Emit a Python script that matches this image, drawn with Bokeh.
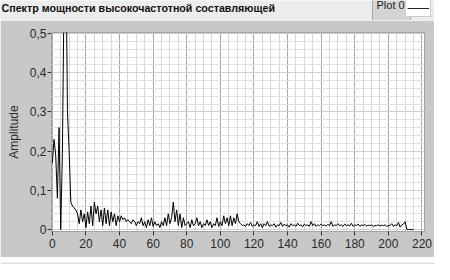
from bokeh.plotting import figure
from bokeh.layouts import column
from bokeh.models import (Range1d, FixedTicker, Label, Legend, LegendItem)
from bokeh.embed import file_html
from bokeh.resources import INLINE

# ---- data ----
freq = list(range(0, 216))
amplitude = [
    0.17, 0.23, 0.19, 0.08, 0.26, 0.00, 0.20, 0.62, 0.75, 0.30,
    0.20, 0.07, 0.06, 0.055, 0.05, 0.04, 0.015, 0.05, 0.02, 0.04,
    0.005, 0.045, 0.015, 0.06, 0.01, 0.07, 0.04, 0.06, 0.02, 0.05,
    0.01, 0.055, 0.015, 0.05, 0.01, 0.045, 0.02, 0.04, 0.01, 0.035,
    0.02, 0.035, 0.025, 0.03, 0.02, 0.025, 0.02, 0.015, 0.025, 0.02,
    0.01, 0.02, 0.015, 0.03, 0.01, 0.02, 0.005, 0.025, 0.01, 0.03,
    0.008, 0.02, 0.01, 0.015, 0.005, 0.02, 0.01, 0.03, 0.01, 0.04,
    0.015, 0.03, 0.07, 0.02, 0.05, 0.01, 0.04, 0.005, 0.03, 0.01,
    0.015, 0.02, 0.005, 0.025, 0.01, 0.015, 0.03, 0.01, 0.02, 0.005,
    0.015, 0.01, 0.025, 0.01, 0.02, 0.005, 0.015, 0.01, 0.03, 0.008,
    0.02, 0.01, 0.035, 0.015, 0.03, 0.01, 0.035, 0.01, 0.03, 0.015,
    0.04, 0.02, 0.015, 0.01, 0.012, 0.008, 0.015, 0.01, 0.018, 0.008,
    0.012, 0.01, 0.02, 0.008, 0.015, 0.005, 0.015, 0.01, 0.02, 0.008,
    0.012, 0.01, 0.015, 0.006, 0.012, 0.01, 0.018, 0.008, 0.014, 0.01,
    0.012, 0.006, 0.015, 0.01, 0.012, 0.008, 0.016, 0.01, 0.012, 0.007,
    0.014, 0.01, 0.012, 0.008, 0.02, 0.01, 0.015, 0.008, 0.012, 0.01,
    0.014, 0.01, 0.012, 0.009, 0.013, 0.01, 0.02, 0.008, 0.012, 0.01,
    0.015, 0.01, 0.012, 0.008, 0.014, 0.01, 0.012, 0.009, 0.016, 0.008,
    0.012, 0.01, 0.014, 0.008, 0.012, 0.01, 0.013, 0.009, 0.011, 0.01,
    0.012, 0.008, 0.01, 0.01, 0.012, 0.009, 0.011, 0.01, 0.012, 0.008,
    0.01, 0.01, 0.015, 0.008, 0.012, 0.01, 0.018, 0.006, 0.012, 0.014,
    0.02, 0.0, 0.0, 0.0, 0.0, 0.0,
]
x_ticks = [0, 20, 40, 60, 80, 100, 120, 140, 160, 180, 200, 220]
y_ticks = [0.0, 0.1, 0.2, 0.3, 0.4, 0.5]
y_tick_labels = ["0", "0,1", "0,2", "0,3", "0,4", "0,5"]
title_text = "Спектр мощности высокочастотной составляющей"
legend_label = "Plot 0"
axis_label = "Amplitude"

FONT = "Liberation Sans"
NARROW = "Liberation Sans Narrow, Liberation Sans, sans-serif"
PANEL = "#c8c8c8"
STRIP = "#ececec"
RIM = "#dedede"

# ---- header strip (title + legend) ----
top = figure(width=434, height=20, output_backend="svg", toolbar_location=None,
             x_range=Range1d(0, 434), y_range=Range1d(0, 20),
             x_axis_type=None, y_axis_type=None, min_border=0)
top.frame_align = False
top.border_fill_color = STRIP
top.background_fill_color = STRIP
top.outline_line_color = None
top.grid.visible = False
top.add_layout(Label(x=1, y=13, x_units="screen", y_units="screen", text=title_text,
                     text_font=FONT, text_font_size="10.7px", text_font_style="bold",
                     text_color="#111111", text_baseline="middle"))
top.add_layout(Label(x=372, y=11.5, x_units="screen", y_units="screen", text=legend_label,
                     text_font=NARROW, text_font_size="11px", text_color="#222222",
                     text_baseline="middle",
                     background_fill_color="#d4d4d4", border_line_color="#a8a8a8",
                     padding=(4, 6, 4, 12)))
# legend swatch: the series' style, a single point so it draws nothing in the strip
icon = top.line(freq[:1], amplitude[:1], line_color="#222222", line_width=1)
legend = Legend(items=[LegendItem(label=" ", renderers=[icon])],
                location=(405, 3), background_fill_color="white", background_fill_alpha=1,
                border_line_color="#9a9a9a", glyph_width=22, glyph_height=14,
                label_width=0, label_height=0, label_standoff=0, padding=1, margin=0,
                spacing=0, label_text_font_size="1px")
top.add_layout(legend)

# ---- main plot ----
p = figure(width=434, height=237, output_backend="svg", toolbar_location=None,
           x_range=Range1d(-0.5, 221.5), y_range=Range1d(-0.005, 0.5025),
           min_border_left=51, min_border_right=10, min_border_top=12, min_border_bottom=26)
p.frame_align = False
p.border_fill_color = PANEL
p.background_fill_color = "white"
p.outline_line_color = "#a0a0a0"

p.line(freq, amplitude, line_color="black", line_width=1)

p.xaxis.ticker = FixedTicker(ticks=x_ticks, minor_ticks=list(range(0, 225, 5)))
p.yaxis.ticker = FixedTicker(ticks=y_ticks, minor_ticks=[i * 0.02 for i in range(0, 26)])
p.yaxis.major_label_overrides = {t: l for t, l in zip(y_ticks, y_tick_labels)}
p.yaxis.axis_label = axis_label
for ax in (p.xaxis[0], p.yaxis[0]):
    ax.axis_line_color = None
    ax.major_tick_line_color = "#333333"
    ax.major_tick_out = 4
    ax.major_tick_in = 0
    ax.minor_tick_line_color = None
    ax.major_label_text_font = NARROW
    ax.major_label_text_font_size = "12px"
    ax.major_label_text_color = "#2a2a2a"
    ax.axis_label_text_font = FONT
    ax.axis_label_text_font_size = "12px"
    ax.axis_label_text_font_style = "normal"
    ax.axis_label_text_color = "#2a2a2a"
p.yaxis.major_label_standoff = 1
p.yaxis.axis_label_standoff = 6
p.xaxis.major_label_standoff = 3

p.xgrid.grid_line_color = "#a8a8a8"
p.ygrid.grid_line_color = "#d0d0d0"
p.xgrid.minor_grid_line_color = "#d6d6d6"
p.ygrid.minor_grid_line_color = "#e0e0e0"

# ---- bottom rim ----
bottom = figure(width=434, height=7, output_backend="svg", toolbar_location=None,
                x_axis_type=None, y_axis_type=None, min_border=0)
bottom.frame_align = False
bottom.border_fill_color = RIM
bottom.background_fill_color = RIM
bottom.outline_line_color = None
bottom.grid.visible = False

layout = column(top, p, bottom, spacing=0)
open("out.html", "w").write(file_html(layout, INLINE))
